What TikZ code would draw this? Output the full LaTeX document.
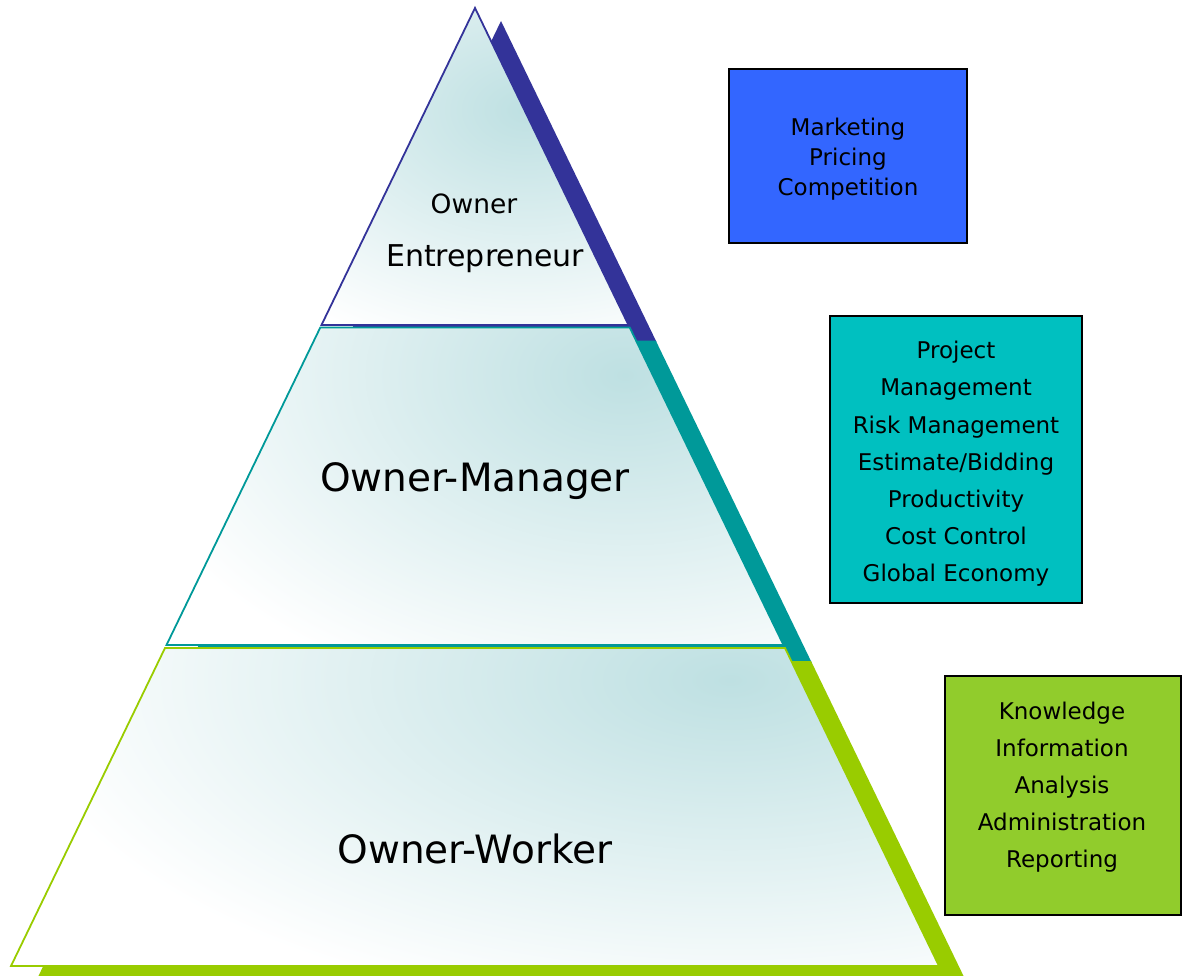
\documentclass[tikz,border=0pt]{standalone}
\usepackage{fontspec}
\setmainfont{DejaVu Sans}
\definecolor{tierBlue}{HTML}{333399}
\definecolor{tierTeal}{HTML}{009999}
\definecolor{tierGreen}{HTML}{99CC00}
\definecolor{boxBlue}{HTML}{3366FF}
\definecolor{boxTeal}{HTML}{00C0C0}
\definecolor{boxGreen}{HTML}{91CC2C}
\definecolor{glow}{HTML}{BEE0E2}
\tikzset{
  infobox/.style={draw=black, line width=2pt, inner sep=0pt},
  boxtext/.style={align=center, text=black, inner sep=0pt},
  tiertext/.style={text=black, inner sep=0pt},
  tieredge/.style={line width=1.8pt, line join=miter},
}
\begin{document}
\begin{tikzpicture}[x=1pt, y=-1pt]
\useasboundingbox (0,0) rectangle (1183,976);
% ---- tier corner coordinates ----
\coordinate (t1a) at (475,8);
\coordinate (t1l) at (321.5,325);
\coordinate (t1r) at (628.5,325);
\coordinate (t2tl) at (320.3,327.5);
\coordinate (t2tr) at (629.7,327.5);
\coordinate (t2bl) at (166.5,645);
\coordinate (t2br) at (783.5,645);
\coordinate (t3tl) at (165,648);
\coordinate (t3tr) at (785,648);
\coordinate (t3bl) at (11,966);
\coordinate (t3br) at (939,966);
% ---- shadow coordinates (offset copies, slightly extended downwards) ----
\coordinate (s1a) at (501,21);
\coordinate (s1l) at (345.5,342);
\coordinate (s1r) at (656.5,342);
\coordinate (s2tl) at (346.3,340.5);
\coordinate (s2tr) at (655.7,340.5);
\coordinate (s2bl) at (190.1,663);
\coordinate (s2br) at (811.9,663);
\coordinate (s3tl) at (191,661);
\coordinate (s3tr) at (811,661);
\coordinate (s3bl) at (37,979);
\coordinate (s3br) at (965,979);
% ---- shadows ----
\fill[tierBlue] (s1a) -- (s1r) -- (s1l) -- cycle;
\fill[tierTeal] (s2tl) -- (s2tr) -- (s2br) -- (s2bl) -- cycle;
\fill[tierGreen] (s3tl) -- (s3tr) -- (s3br) -- (s3bl) -- cycle;
% ---- top tier ----
\fill[white] (t1a) -- (t1r) -- (t1l) -- cycle;
\begin{scope}
  \clip (t1a) -- (t1r) -- (t1l) -- cycle;
  \shade[inner color=glow, outer color=white] (525,110) ellipse [x radius=360, y radius=250];
\end{scope}
\draw[tieredge, tierBlue] (t1a) -- (t1r) -- (t1l) -- cycle;
% ---- middle tier ----
\fill[white] (t2tl) -- (t2tr) -- (t2br) -- (t2bl) -- cycle;
\begin{scope}
  \clip (t2tl) -- (t2tr) -- (t2br) -- (t2bl) -- cycle;
  \shade[inner color=glow, outer color=white] (625,375) ellipse [x radius=520, y radius=340];
\end{scope}
\draw[tieredge, tierTeal] (t2tl) -- (t2tr) -- (t2br) -- (t2bl) -- cycle;
% ---- bottom tier ----
\fill[white] (t3tl) -- (t3tr) -- (t3br) -- (t3bl) -- cycle;
\begin{scope}
  \clip (t3tl) -- (t3tr) -- (t3br) -- (t3bl) -- cycle;
  \shade[inner color=glow, outer color=white] (730,680) ellipse [x radius=720, y radius=340];
\end{scope}
\draw[tieredge, tierGreen] (t3tl) -- (t3tr) -- (t3br) -- (t3bl) -- cycle;
% ---- tier labels ----
\node[tiertext, font=\fontsize{26.5}{30}\selectfont] (owner) at (474,204) {Owner};
\node[tiertext, font=\fontsize{30}{34}\selectfont] (entre) at (485,259) {Entrepreneur};
\node[tiertext, font=\fontsize{39}{46}\selectfont] (mgr) at (475,481) {Owner-Manager};
\node[tiertext, font=\fontsize{39}{46}\selectfont] (wrk) at (475,849) {Owner-Worker};
% ---- side boxes ----
\node[infobox, fill=boxBlue, minimum width=238pt, minimum height=174pt] (b1) at (848,156) {};
\node[infobox, fill=boxTeal, minimum width=252pt, minimum height=287pt] (b2) at (956,459.5) {};
\node[infobox, fill=boxGreen, minimum width=236pt, minimum height=239pt] (b3) at (1063,795.5) {};
\node[boxtext, font=\fontsize{23}{30}\selectfont] (b1t) at (848,159) {Marketing\\Pricing\\Competition};
\node[boxtext, font=\fontsize{23}{37.2}\selectfont] (b2t) at (956,464) {Project\\Management\\Risk Management\\Estimate/Bidding\\Productivity\\Cost Control\\Global Economy};
\node[boxtext, font=\fontsize{23}{37}\selectfont] (b3t) at (1062,787) {Knowledge\\Information\\Analysis\\Administration\\Reporting};
\end{tikzpicture}
\end{document}
